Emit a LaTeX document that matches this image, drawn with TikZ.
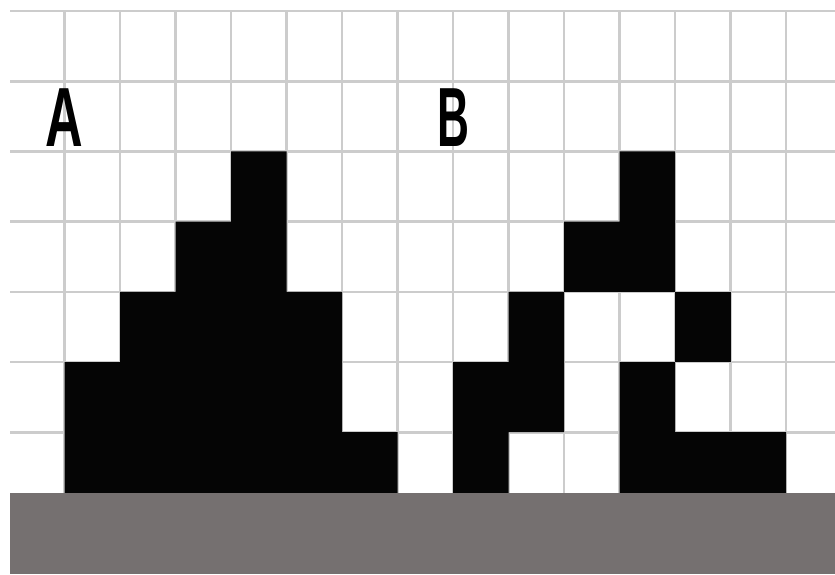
\documentclass[tikz,border=0pt]{standalone}
\usepackage{fontspec}
\setmainfont{Liberation Sans}
\begin{document}
\begin{tikzpicture}[x=1pt,y=-1pt,
  gridline/.style={draw=black!20,line width=2.6pt},
  blk/.style={fill=black!98,draw=none},
  ground/.style={fill={rgb,255:red,117;green,112;blue,112},draw=none},
  lbl/.style={font=\fontsize{84}{84}\selectfont\bfseries,inner sep=0pt,xscale=0.62,text=black}]
\useasboundingbox[fill=white] (0,0) rectangle (835,574);
% grid
\foreach \y in {11,81.2,151.4,221.6,291.8,362,432.2}
  \draw[gridline] (10,\y) -- (835,\y);
\foreach \k in {0,...,13}
  \draw[gridline] ({64.5+55.5*\k},11) -- ({64.5+55.5*\k},493);
% shape A
\fill[blk] (231,151.4) -- (286.5,151.4) -- (286.5,291.8) -- (342,291.8) -- (342,432.2)
  -- (397.5,432.2) -- (397.5,493) -- (64.5,493) -- (64.5,362) -- (120,362) -- (120,291.8)
  -- (175.5,291.8) -- (175.5,221.6) -- (231,221.6) -- cycle;
% shape B
\fill[blk] (619.5,151.4) -- (675,151.4) -- (675,291.8) -- (564,291.8) -- (564,221.6)
  -- (619.5,221.6) -- cycle;
\fill[blk] (675,291.8) rectangle (730.5,362);
\fill[blk] (508.5,291.8) -- (564,291.8) -- (564,432.2) -- (508.5,432.2) -- (508.5,493)
  -- (453,493) -- (453,362) -- (508.5,362) -- cycle;
\fill[blk] (619.5,362) -- (675,362) -- (675,432.2) -- (786,432.2) -- (786,493)
  -- (619.5,493) -- cycle;
% ground
\fill[ground] (10,493) rectangle (835,574);
% labels
\node[lbl] (la) at (64,118) {A};
\node[lbl,xscale=0.85] (lb) at (453.5,118) {B};
\end{tikzpicture}
\end{document}
